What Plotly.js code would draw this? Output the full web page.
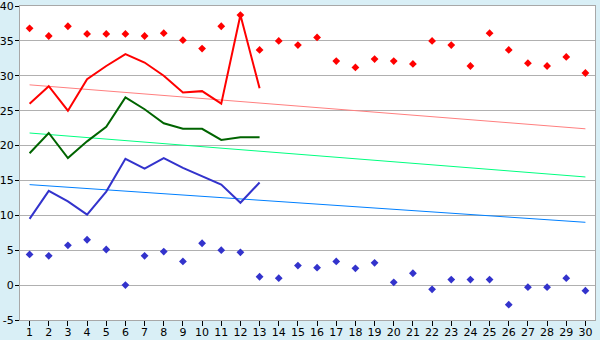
<!DOCTYPE html>
<html>
<head>
<meta charset="utf-8">
<script src="https://cdn.plot.ly/plotly-3.0.1.min.js"></script>
<style>html,body{margin:0;padding:0;background:#d9eff6;}#chart{width:600px;height:340px;}</style>
</head>
<body>
<div id="chart"></div>
<script>
const days = [1,2,3,4,5,6,7,8,9,10,11,12,13,14,15,16,17,18,19,20,21,22,23,24,25,26,27,28,29,30];
const lineDays = [1,2,3,4,5,6,7,8,9,10,11,12,13];
const redPoints = [36.8,35.7,37.1,36.0,36.0,36.0,35.7,36.1,35.1,33.9,37.1,38.7,33.7,35.0,34.4,35.5,32.1,31.2,32.4,32.1,31.7,35.0,34.4,31.4,36.1,33.7,31.8,31.4,32.7,30.4];
const bluePoints = [4.4,4.2,5.7,6.5,5.1,0.0,4.2,4.8,3.4,6.0,5.0,4.7,1.2,1.0,2.8,2.5,3.4,2.4,3.2,0.4,1.7,-0.6,0.8,0.8,0.8,-2.8,-0.3,-0.3,1.0,-0.8];
const redLine = [26.0,28.5,25.0,29.5,31.4,33.1,31.9,30.0,27.6,27.8,26.0,38.7,28.2];
const greenLine = [18.9,21.8,18.2,20.6,22.7,26.9,25.2,23.2,22.4,22.4,20.8,21.2,21.2];
const blueLine = [9.5,13.5,12.0,10.1,13.4,18.1,16.7,18.2,16.8,15.6,14.4,11.8,14.7];
const trendDays = [1,30];
const redTrend = [28.7,22.4];
const greenTrend = [21.8,15.5];
const blueTrend = [14.4,9.0];
const yTicks = [-5,0,5,10,15,20,25,30,35,40];
const yTickText = ['-5','0','5','10','15','20','25','30','35','40'];

const traces = [
  {x: trendDays, y: redTrend, mode:'lines', line:{color:'#ff7f7f', width:1}},
  {x: trendDays, y: greenTrend, mode:'lines', line:{color:'#00ff80', width:1}},
  {x: trendDays, y: blueTrend, mode:'lines', line:{color:'#0080ff', width:1}},
  {x: lineDays, y: redLine, mode:'lines', line:{color:'#ff0000', width:2}},
  {x: lineDays, y: greenLine, mode:'lines', line:{color:'#006400', width:2}},
  {x: lineDays, y: blueLine, mode:'lines', line:{color:'#3333cc', width:2}},
  {x: days, y: redPoints, mode:'markers', marker:{symbol:'diamond', size:6, color:'#ff0000'}},
  {x: days, y: bluePoints, mode:'markers', marker:{symbol:'diamond', size:6, color:'#3333cc'}}
];

const layout = {
  width:600, height:340,
  margin:{l:20, r:5, t:6, b:20, pad:0},
  paper_bgcolor:'#d9eff6',
  plot_bgcolor:'#ffffff',
  showlegend:false,
  font:{family:'DejaVu Sans', size:11, color:'#000000'},
  xaxis:{
    range:[0.5,30.5], tickmode:'array', tickvals:days, ticktext:days.map(String),
    showgrid:false, zeroline:false, ticks:'outside', ticklen:5, tickcolor:'#000000',
    ticklabelstandoff:-3, ticklabeloverflow:'allow',
    showline:true, linecolor:'#a8a8a8', linewidth:1, mirror:true, fixedrange:true
  },
  yaxis:{
    range:[-5,40], tickmode:'array', tickvals:yTicks, ticktext:yTickText,
    showgrid:true, gridcolor:'#b0b0b0', gridwidth:1, zeroline:false,
    ticks:'outside', ticklen:4, tickcolor:'#000000', ticklabelstandoff:-1, ticklabeloverflow:'allow',
    showline:true, linecolor:'#a8a8a8', linewidth:1, mirror:true, fixedrange:true
  }
};
Plotly.newPlot('chart', traces, layout, {staticPlot:true, displayModeBar:false});
</script>
</body>
</html>
